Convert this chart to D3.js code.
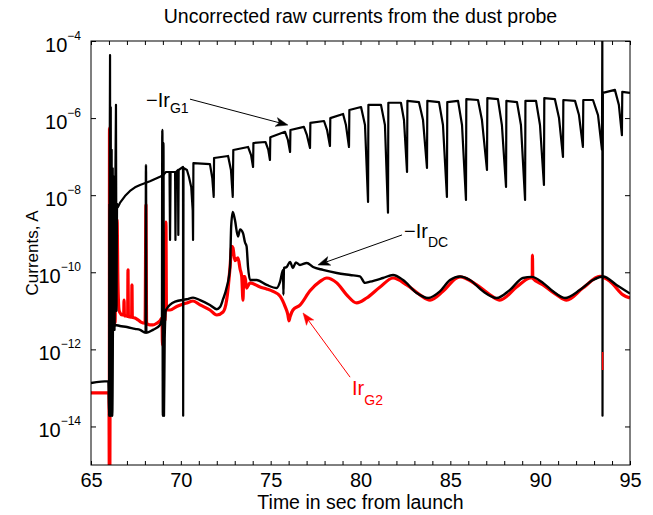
<!DOCTYPE html>
<html><head><meta charset="utf-8">
<script src="https://cdn.jsdelivr.net/npm/d3@7"></script>
<style>
body{margin:0;background:#fff}
svg{display:block}
text{font-family:"Liberation Sans",Arial,Helvetica,sans-serif;fill:#000}
</style>
</head><body>
<svg id="chart" width="653" height="515"></svg>
<script>
// ---------- data (time in s from launch, current in A) ----------
const xMajorTicks = [65, 70, 75, 80, 85, 90, 95];
const xMinorTicks = d3.range(65, 96, 1);
const yTickExponents = [-4, -6, -8, -10, -12, -14];

// -Ir_G1 (black, upper sawtooth)
const g1 = [
 [66.00,1.34e-13],[66.02,1.9e-14],[66.04,8.2e-8],[66.06,4.3e-5],[66.08,1.9e-14],[66.10,1.9e-6],[66.12,1.9e-14],
 [66.15,1.5e-7],[66.18,1.9e-14],[66.21,5e-8],[66.24,3.2e-12],[66.28,3e-8],[66.31,3.2e-12],[66.35,1.5e-8],
 [66.39,2.2e-6],[66.42,1e-11],[66.45,6e-9],[66.50,4.9e-9],[66.61,6.3e-9],[66.89,9.5e-9],[67.17,1.29e-8],
 [67.45,1.6e-8],[67.73,1.84e-8],[68.28,2.3e-8],[68.84,3.0e-8],[69.01,3.3e-8],[69.17,4.0e-8],[69.37,4.0e-8],
 [69.40,6.9e-10],[69.43,4.0e-8],[69.68,4.0e-8],[69.70,6.9e-10],[69.73,4.0e-8],[69.84,4.5e-8],[69.86,9.3e-10],
 [69.88,4.5e-8],[70.12,5.4e-8],[70.13,1.9e-14],[70.15,5.1e-8],[70.34,4.5e-8],[70.45,3.0e-8],[70.58,1.6e-8],
 [70.66,4e-9],[70.68,6.9e-10],
 [70.70,6.8e-8],[71.62,6.4e-8],[71.75,2.8e-8],[71.83,9.0e-9],
 [71.85,9.2e-8],[72.63,1.04e-7],[72.79,4.5e-8],[72.89,9.0e-9],
 [72.92,1.49e-7],[73.74,1.78e-7],[73.91,1.1e-7],[74.02,5.4e-8],
 [74.04,2.26e-7],[74.71,2.4e-7],[74.87,1.49e-7],[74.96,8.2e-8],
 [74.98,3.2e-7],[75.80,4.4e-7],[75.96,2.7e-7],[76.08,1.32e-7],
 [76.10,4.9e-7],[76.85,5.9e-7],[77.02,3.6e-7],[77.19,1.68e-7],
 [77.21,7.5e-7],[77.97,8.4e-7],[78.14,4.9e-7],[78.30,1.89e-7],
 [78.32,1.0e-6],[79.03,1.28e-6],[79.19,6.6e-7],[79.36,1.78e-7],
 [79.38,1.62e-6],[80.03,1.94e-6],[80.25,6.6e-7],[80.42,6.7e-9],
 [80.44,2.2e-6],[81.14,2.2e-6],[81.36,6.6e-7],[81.53,3.5e-9],
 [81.55,2.5e-6],[82.25,2.5e-6],[82.42,8.9e-7],[82.59,4.0e-8],
 [82.61,2.8e-6],[83.25,2.6e-6],[83.48,8.9e-7],[83.70,5.1e-8],
 [83.72,2.8e-6],[84.37,2.6e-6],[84.59,6.6e-7],[84.81,9.0e-9],
 [84.83,2.6e-6],[85.43,2.8e-6],[85.65,6.6e-7],[85.87,7.5e-9],
 [85.89,3.1e-6],[86.54,2.95e-6],[86.76,8.9e-7],[87.04,4.5e-8],
 [87.06,3.3e-6],[87.65,3.1e-6],[87.87,6.6e-7],[88.10,1.63e-8],
 [88.12,2.8e-6],[88.71,2.6e-6],[88.93,6.6e-7],[89.16,7.5e-9],
 [89.18,2.8e-6],[89.77,2.8e-6],[89.99,6.6e-7],[90.21,1.84e-8],
 [90.23,3.3e-6],[90.82,3.1e-6],[91.05,1.0e-6],[91.27,9.8e-8],
 [91.29,2.95e-6],[91.94,2.8e-6],[92.16,1.2e-6],[92.38,1.78e-7],
 [92.40,2.95e-6],[92.94,2.95e-6],[93.22,1.2e-6],[93.44,1.49e-7],
 [93.46,2e-4],[93.47,1.9e-14],
 [93.49,4.5e-6],[94.16,5.4e-6],[94.38,2.2e-6],[94.55,3.6e-7],
 [94.57,4.8e-6],[95.00,4.5e-6]
];

// -Ir_DC (black, lower)
const dc = [
 [65.00,1.34e-13],[65.97,1.5e-13],[66.01,1.9e-14],[66.04,6e-9],[66.08,1.9e-14],[66.12,3e-12],[66.17,1.9e-14],
 [66.22,4e-12],[66.26,3e-9],[66.30,4e-12],[66.34,4.3e-12],[66.61,4.05e-12],[67.00,3.8e-12],[67.45,3.4e-12],
 [67.73,3.2e-12],[68.04,2.7e-12],[68.06,6.1e-8],[68.08,2.7e-12],[68.45,3.2e-12],[68.84,4.3e-12],[68.95,6.5e-12],
 [68.97,4.9e-7],[69.00,1.9e-14],[69.03,2.26e-7],[69.06,1.9e-14],[69.10,1.9e-12],[69.17,1.05e-11],[69.68,1.74e-11],
 [70.33,2.0e-11],[70.68,2.2e-11],[71.07,1.9e-11],[71.62,1.42e-11],[72.00,1.1e-11],[72.18,1.25e-11],[72.35,2.0e-11],
 [72.55,4.0e-11],[72.74,1.37e-10],[72.80,1.5e-9],[72.89,3.7e-9],[73.01,2.3e-9],[73.18,8.5e-10],[73.30,1.3e-9],
 [73.46,1.04e-9],[73.57,6e-10],[73.66,4.7e-10],[73.74,1.37e-10],[73.85,6.3e-11],[74.22,6.3e-11],[74.78,4.7e-11],
 [75.34,3.9e-11],[75.52,5.6e-11],[75.69,1.15e-10],[75.71,2.6e-11],[75.74,1.29e-10],[75.89,1.37e-10],[76.08,1.85e-10],
 [76.24,1.29e-10],[76.40,1.8e-10],[76.63,1.55e-10],[77.01,1.74e-10],[77.36,1.37e-10],[77.91,1.15e-10],[78.68,9.6e-11],
 [79.42,8.5e-11],[79.97,7.8e-11],[80.25,5.3e-11],[80.53,5.7e-11],[81.25,7.1e-11],[81.81,8.5e-11],[82.37,6.3e-11],
 [83.13,2.9e-11],[83.76,2.15e-11],[84.42,3.2e-11],[84.98,6.3e-11],[85.54,7.8e-11],[86.09,6.3e-11],[86.82,3.2e-11],
 [87.58,2.15e-11],[88.32,3.5e-11],[89.04,7.1e-11],[89.53,7.6e-11],[90.16,5.3e-11],[90.71,3.2e-11],[91.38,2.15e-11],
 [92.22,3.5e-11],[92.94,6.3e-11],[93.50,7.8e-11],[94.25,4.7e-11],[95.00,2.8e-11]
];

// Ir_G2 (red)
const g2 = [
 [65.00,7.4e-14],[65.97,7.4e-14],[66.00,6.6e-14],[66.02,5e-16],[66.03,5.5e-7],[66.05,5e-16],[66.07,1.9e-11],
 [66.09,5.6e-9],[66.11,3.2e-12],[66.17,1.29e-8],[66.22,3.2e-12],[66.28,6.3e-9],[66.34,4.8e-12],[66.39,1.04e-9],
 [66.42,1.9e-11],[66.45,2.3e-9],[66.50,5.3e-11],[66.56,1.05e-11],[66.61,9e-12],[66.73,7.8e-12],[66.82,8e-12],
 [66.84,1.9e-11],[66.86,7.5e-12],[67.00,7.3e-12],[67.04,7.2e-12],[67.06,1.15e-10],[67.08,7.1e-12],[67.17,6.9e-12],
 [67.26,6.8e-12],[67.28,4.7e-11],[67.30,6.8e-12],[67.45,6.5e-12],[67.62,5.8e-12],[67.78,5.1e-12],[68.01,4.8e-12],
 [68.06,5.6e-9],[68.09,4.8e-12],[68.28,4.3e-12],[68.45,4.3e-12],[68.67,4.8e-12],[68.84,5.5e-12],[68.95,6.5e-12],
 [68.98,1.3e-12],[69.02,1.9e-11],[69.05,3.4e-12],[69.10,1.04e-9],[69.12,5.5e-12],[69.17,2.0e-9],[69.20,1.05e-11],
 [69.40,1.05e-11],[69.77,1.3e-11],[70.33,1.6e-11],[70.68,1.8e-11],[71.07,1.42e-11],[71.62,1.05e-11],[72.00,7.8e-12],
 [72.35,9.3e-12],[72.55,1.9e-11],[72.74,1.37e-10],[72.83,4.7e-10],[72.90,4.3e-10],[73.01,2.0e-10],[73.18,2.35e-10],
 [73.30,1.2e-10],[73.39,7.7e-11],[73.46,1.9e-11],[73.50,7.7e-11],[73.57,7.7e-11],[73.66,3.9e-11],[73.85,5.3e-11],
 [74.41,4.15e-11],[74.78,3.7e-11],[75.13,3.2e-11],[75.52,2.4e-11],[75.80,1.3e-11],[75.96,7.8e-12],[76.02,5.5e-12],
 [76.08,7e-12],[76.24,1.05e-11],[76.63,1.4e-11],[77.19,3.3e-11],[77.75,5.8e-11],[78.12,7.1e-11],[78.68,5.3e-11],
 [79.23,2.6e-11],[79.79,1.6e-11],[80.34,2.15e-11],[81.09,4.15e-11],[81.81,7.1e-11],[82.57,4.7e-11],[83.31,2.6e-11],
 [83.87,1.9e-11],[84.59,3.2e-11],[85.35,7.1e-11],[85.54,7.6e-11],[86.47,4.7e-11],[87.21,2.6e-11],[87.76,1.9e-11],
 [88.69,4.15e-11],[89.43,7.1e-11],[89.56,7.2e-11],[89.57,2.8e-10],[89.59,7e-11],[90.16,4.7e-11],[90.92,2.6e-11],
 [91.47,1.9e-11],[92.38,3.9e-11],[93.33,7.8e-11],[93.89,5.8e-11],[94.61,2.6e-11],[95.00,2.15e-11]
];
// short red glitch visible on top of the black spike near 93.5 s
const g2Glitch = [[93.475,8.6e-13],[93.48,2.9e-13]];

// annotations: text anchor, arrow tail and tip in data units
const labelG1 = {main:"\u2212Ir", sub:"G1", at:[68.06,1.94e-6], tail:[70.51,3.1e-6], tip:[75.96,6.6e-7], color:"#000", subDy:6};
const labelDC = {main:"\u2212Ir", sub:"DC", at:[82.42,7.8e-10], tail:[82.31,9.3e-10], tip:[77.63,1.55e-10], color:"#000", subDy:9};
const labelG2 = {main:"Ir", sub:"G2", at:[79.53,6.6e-14], tail:[79.42,1.9e-13], tip:[76.80,8.8e-12], color:"#ff0000", subDy:10};

const titleText = "Uncorrected raw currents from the dust probe";
const xLabelText = "Time in sec from launch";
const yLabelText = "Currents, A";

// ---------- drawing ----------
const PL = 91, PR = 630, PT = 41, PB = 465;
const svg = d3.select("#chart");
const x = d3.scaleLinear().domain([65, 95]).range([PL, PR]);
const y = d3.scaleLog().domain([1e-15, 1e-4]).range([PB, PT]);

svg.append("defs").append("clipPath").attr("id","clip")
  .append("rect").attr("x",PL).attr("y",PT).attr("width",PR-PL).attr("height",PB-PT);

const fs = 20;
const gBottom = svg.append("g").attr("transform",`translate(0,${PB})`)
  .call(d3.axisBottom(x).tickValues(xMinorTicks).tickSize(-4).tickSizeOuter(0).tickPadding(8)
    .tickFormat(d => xMajorTicks.includes(d) ? d : ""));
const gTop = svg.append("g").attr("transform",`translate(0,${PT})`)
  .call(d3.axisTop(x).tickValues(xMinorTicks).tickSize(-4).tickSizeOuter(0).tickFormat(""));
const yVals = yTickExponents.map(e => Math.pow(10, e));
const gLeft = svg.append("g").attr("transform",`translate(${PL},0)`)
  .call(d3.axisLeft(y).tickValues(yVals).tickSize(-5).tickSizeOuter(0).tickFormat(""));
const gRight = svg.append("g").attr("transform",`translate(${PR},0)`)
  .call(d3.axisRight(y).tickValues(yVals).tickSize(-5).tickSizeOuter(0).tickFormat(""));
[gBottom, gTop, gLeft, gRight].forEach(g => {
  g.select(".domain").remove();
  g.selectAll(".tick line").attr("stroke","#000").attr("stroke-width",1);
});
gBottom.selectAll("text").attr("font-size",fs).attr("fill","#000")
  .attr("font-family",'"Liberation Sans",Arial,sans-serif');

yTickExponents.forEach(e => {
  const yy = y(Math.pow(10, e));
  const t = svg.append("text").attr("x", 81).attr("y", yy + 11)
    .attr("text-anchor","end").attr("font-size", fs);
  t.append("tspan").text("10");
  t.append("tspan").attr("font-size", 12).attr("dy", -12).text("\u2212" + Math.abs(e));
});

const plot = svg.append("g").attr("clip-path","url(#clip)");
const lineLin = d3.line().x(d => x(d[0])).y(d => y(d[1]));
const lineMono = d3.line().x(d => x(d[0])).y(d => y(d[1])).curve(d3.curveMonotoneX);
plot.append("path").datum(g2).attr("d", lineMono).attr("fill","none")
  .attr("stroke","#ff0000").attr("stroke-width",3.2).attr("stroke-linejoin","round");
plot.append("path").datum(dc).attr("d", lineMono).attr("fill","none")
  .attr("stroke","#000").attr("stroke-width",2.4).attr("stroke-linejoin","round");
plot.append("path").datum(g1).attr("d", lineLin).attr("fill","none")
  .attr("stroke","#000").attr("stroke-width",2.2).attr("stroke-linejoin","round");
plot.append("path").datum(g2Glitch).attr("d", lineLin).attr("fill","none")
  .attr("stroke","#ff0000").attr("stroke-width",1.5);

svg.append("rect").attr("x",PL).attr("y",PT).attr("width",PR-PL).attr("height",PB-PT)
  .attr("fill","none").attr("stroke","#000").attr("stroke-width",1);

function annotate(a) {
  const x0 = x(a.tail[0]), y0 = y(a.tail[1]);
  const x1 = x(a.tip[0]), y1 = y(a.tip[1]);
  const ang = Math.atan2(y1 - y0, x1 - x0);
  const len = 12, hw = 4.5, notch = 9;
  const ux = Math.cos(ang), uy = Math.sin(ang), px = -uy, py = ux;
  svg.append("line").attr("x1",x0).attr("y1",y0)
    .attr("x2",x1 - ux*notch).attr("y2",y1 - uy*notch)
    .attr("stroke",a.color).attr("stroke-width",1);
  const pts = [
    [x1, y1],
    [x1 - ux*len + px*hw, y1 - uy*len + py*hw],
    [x1 - ux*notch, y1 - uy*notch],
    [x1 - ux*len - px*hw, y1 - uy*len - py*hw]
  ];
  svg.append("path").attr("d","M" + pts.map(p => p.join(",")).join("L") + "Z")
    .attr("fill",a.color).attr("stroke",a.color).attr("stroke-width",0.5);
  const t = svg.append("text").attr("x", x(a.at[0])).attr("y", y(a.at[1]))
    .attr("font-size", 20).style("fill", a.color);
  t.append("tspan").text(a.main);
  t.append("tspan").attr("font-size",14).attr("dy",a.subDy).text(a.sub);
}
[labelG1, labelDC, labelG2].forEach(annotate);

svg.append("text").attr("x", (PL+PR)/2).attr("y", 23).attr("text-anchor","middle")
  .attr("font-size", 19.5).text(titleText);
svg.append("text").attr("x", (PL+PR)/2).attr("y", 509).attr("text-anchor","middle")
  .attr("font-size", 19.5).text(xLabelText);
svg.append("text").attr("transform", `translate(38,253) rotate(-90)`)
  .attr("text-anchor","middle").attr("font-size", 17).text(yLabelText);
</script>
</body></html>
